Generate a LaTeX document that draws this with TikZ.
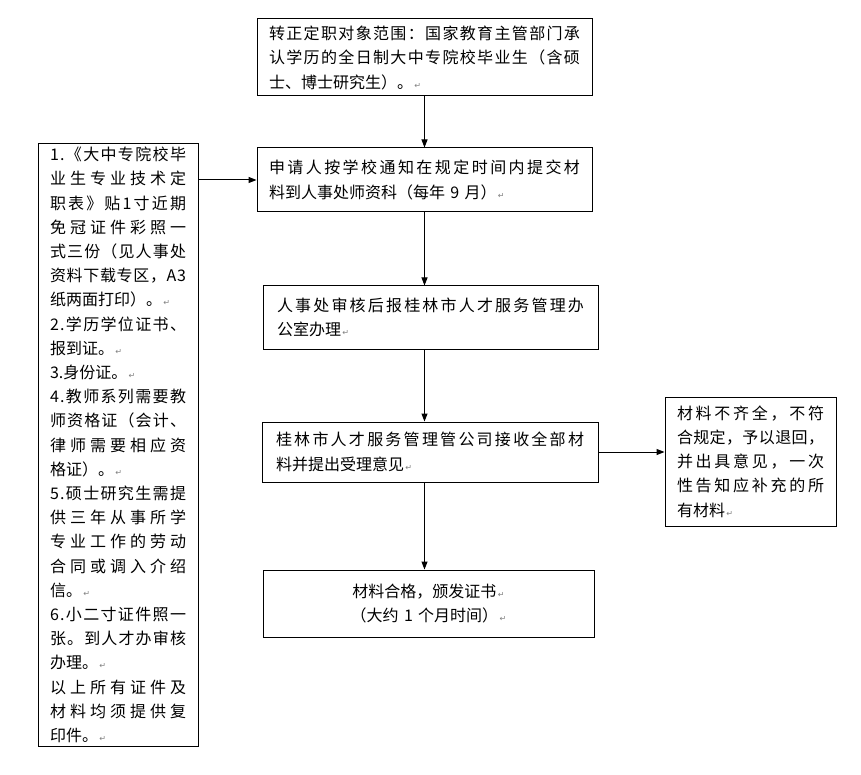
\documentclass[tikz,border=0pt]{standalone}
\usepackage{fontspec}
\setmainfont{Noto Sans CJK SC}
\newfontfamily\symfont{DejaVu Sans}
\usetikzlibrary{positioning,arrows.meta}
% spread one line over the full text width
\def\jlfirst#1{#1\jlloop}
\def\jlloop#1{\ifx#1\jlend\else\hfil#1\expandafter\jlloop\fi}
\newcommand\jl[1]{\makebox[\linewidth][s]{\jlfirst#1\jlend}}
\newcommand\retmark{{\symfont\fontsize{8}{8}\selectfont\textcolor{gray}{\,↵}}}

\begin{document}
\begin{tikzpicture}[x=1pt,y=-1pt,
    proc/.style={draw, line width=1pt, text width=311pt, inner xsep=12pt, align=left,
      font=\fontsize{16}{24.5}\selectfont},
    note/.style={draw, line width=1pt, inner xsep=12pt, align=left,
      font=\fontsize{16}{24.2}\selectfont},
    >={Triangle[length=8pt,width=6pt]}, line width=1pt]
  \useasboundingbox (0,0) rectangle (861,775);
  \node[proc, minimum height=77pt] (scope) at (424.5,57.5) {\jl{转正定职对象范围：国家教育主管部门承}\\
    \jl{认学历的全日制大中专院校毕业生（含硕}\\
    士、博士研究生）。\retmark};
  \node[proc, minimum height=64pt] (apply) at (424.5,180) {\jl{申请人按学校通知在规定时间内提交材}\\
    料到人事处师资科（每年 9 月）\retmark};
  \node[proc, minimum height=63pt, text width=307pt, inner xsep=14pt] (review) at (430.5,317.5) {\jl{人事处审核后报桂林市人才服务管理办}\\
    公室办理\retmark};
  \node[proc, minimum height=60pt, text width=308pt, inner xsep=14pt] (accept) at (430,452) {\jl{桂林市人才服务管理管公司接收全部材}\\
    料并提出受理意见\retmark};
  \node[note, text width=147pt, minimum height=129pt] (reject) at (750.5,461.5) {\jl{材料不齐全，不符}\\
    \jl{合规定，予以退回，}\\
    \jl{并出具意见，一次}\\
    \jl{性告知应补充的所}\\
    有材料\retmark};
  \node[proc, minimum height=67pt, text width=307pt, align=center] (issue) at (428.5,603.5) {材料合格，颁发证书\retmark\\
    （大约 1 个月时间）\retmark};
  \node[note, text width=136pt, minimum height=594pt] (docs) at (118,445) {\jl{1.《大中专院校毕}\\
    \jl{业生专业技术定}\\
    \jl{职表》贴1寸近期}\\
    \jl{免冠证件彩照一}\\
    \jl{式三份（见人事处}\\
    \jl{资料下载专区，A3}\\
    纸两面打印）。\retmark\\
    \jl{2.学历学位证书、}\\
    报到证。\retmark\\
    3.身份证。\retmark\\
    \jl{4.教师系列需要教}\\
    \jl{师资格证（会计、}\\
    \jl{律师需要相应资}\\
    格证）。\retmark\\
    \jl{5.硕士研究生需提}\\
    \jl{供三年从事所学}\\
    \jl{专业工作的劳动}\\
    \jl{合同或调入介绍}\\
    信。\retmark\\
    \jl{6.小二寸证件照一}\\
    \jl{张。到人才办审核}\\
    办理。\retmark\\
    \jl{以上所有证件及}\\
    \jl{材料均须提供复}\\
    印件。\retmark};
  \draw[->] (scope) -- (apply);
  \draw[->] (apply) -- (apply |- review.north);
  \draw[->] (apply |- review.south) -- (apply |- accept.north);
  \draw[->] (accept.east) -- (accept.east -| reject.west);
  \draw[->] (apply |- accept.south) -- (apply |- issue.north);
  \draw[->] (docs.east |- apply.west) -- (apply.west);
\end{tikzpicture}
\end{document}
